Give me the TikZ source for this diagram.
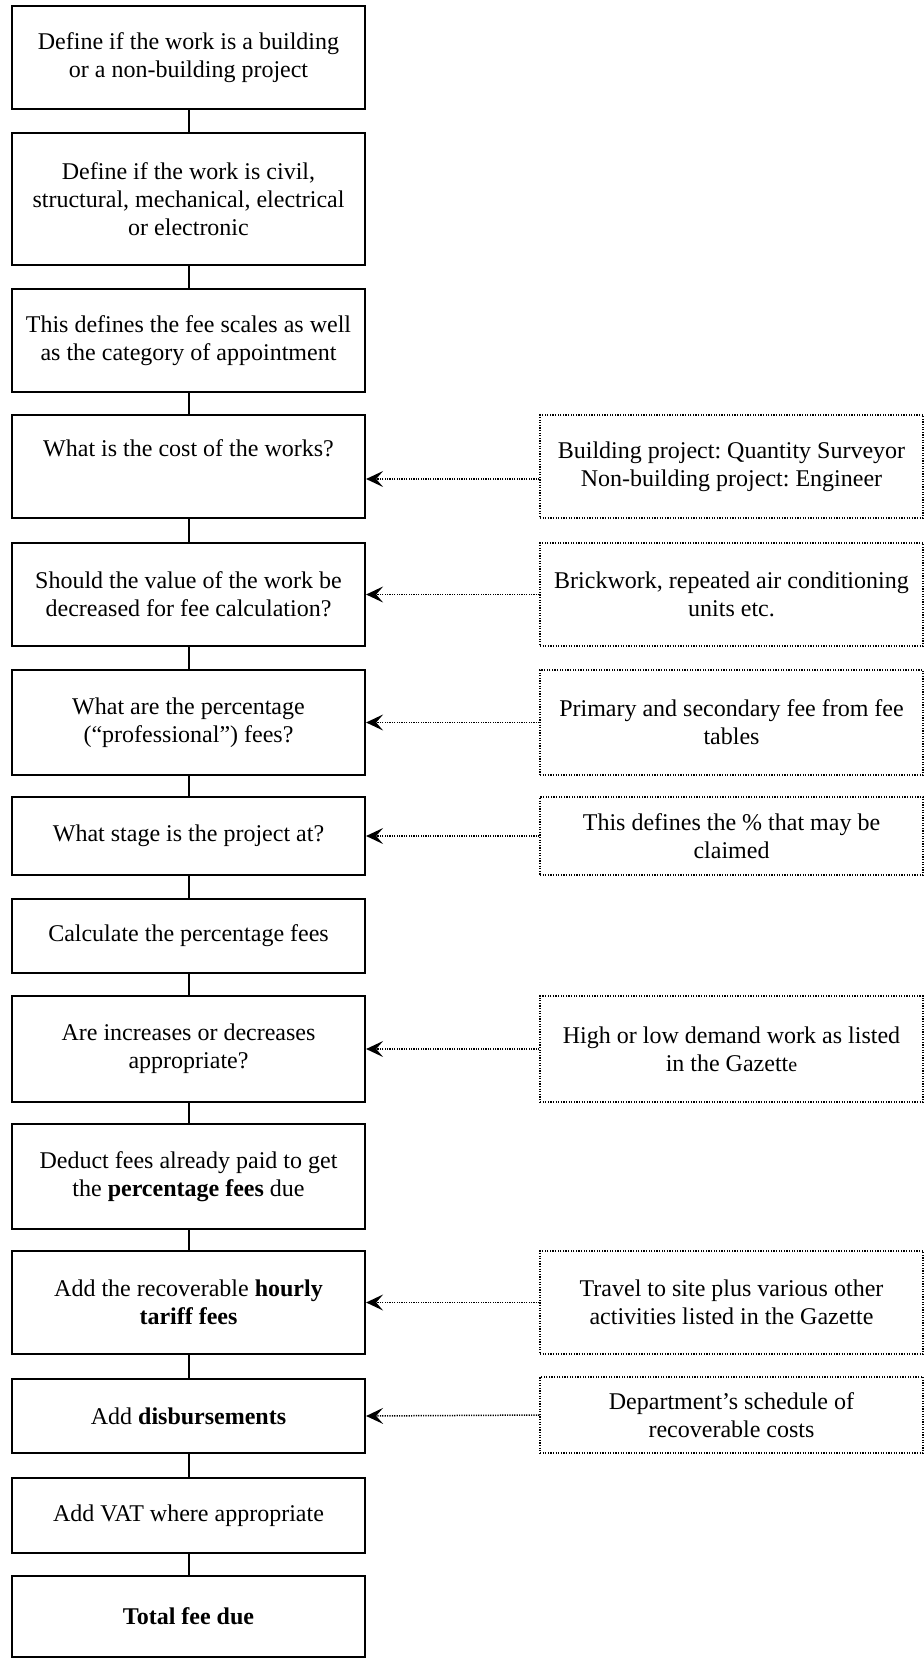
\documentclass[tikz,border=0pt]{standalone}
\usepackage{fontspec}
\setmainfont{Liberation Serif}
\usetikzlibrary{arrows.meta}
\frenchspacing
\begin{document}
\begin{tikzpicture}[x=0.5pt,y=-0.5pt,
  stepbox/.style={draw, line width=1.1pt, align=center, inner sep=0pt,
    minimum width=176.5pt, font=\fontsize{12}{14}\selectfont},
  notebox/.style={draw, line width=0.6pt, dash pattern=on 0.6pt off 0.7pt,
    align=center, inner sep=0pt, minimum width=191.5pt, font=\fontsize{12}{14}\selectfont},
  link/.style={line width=1pt},
  feed/.style={line width=0.75pt, dash pattern=on 0.6pt off 0.6pt,
    -{Stealth[length=8.5pt,width=8pt,inset=3.5pt]}}]
\useasboundingbox (0,0) rectangle (924,1659);

% main column
\node[stepbox, minimum height=51.5pt] (b1) at (188.5,57.5) {Define if the work is a building\\or a non-building project};
\node[stepbox, minimum height=66pt] (b2) at (188.5,199) {Define if the work is civil,\\structural, mechanical, electrical\\or electronic};
\node[stepbox, minimum height=51.5pt] (b3) at (188.5,340.5) {This defines the fee scales as well\\as the category of appointment};
\node[stepbox, minimum height=51.5pt] (b4) at (188.5,466.5) {What is the cost of the works?\\\strut};
\node[stepbox, minimum height=51.5pt] (b5) at (188.5,594.5) {Should the value of the work be\\decreased for fee calculation?};
\node[stepbox, minimum height=52.5pt] (b6) at (188.5,722.5) {What are the percentage\\(“professional”) fees?};
\node[stepbox, minimum height=39pt] (b7) at (188.5,836) {What stage is the project at?};
\node[stepbox, minimum height=37pt] (b8) at (188.5,936) {Calculate the percentage fees};
\node[stepbox, minimum height=53pt] (b9) at (188.5,1049) {Are increases or decreases\\appropriate?};
\node[stepbox, minimum height=52.5pt] (b10) at (188.5,1176.5) {Deduct fees already paid to get\\the \textbf{percentage fees} due};
\node[stepbox, minimum height=51.5pt] (b11) at (188.5,1302.5) {Add the recoverable \textbf{hourly}\\\textbf{tariff fees}};
\node[stepbox, minimum height=37pt] (b12) at (188.5,1416) {Add \textbf{disbursements}};
\node[stepbox, minimum height=37.5pt] (b13) at (188.5,1515.5) {Add VAT where appropriate};
\node[stepbox, minimum height=40.5pt] (b14) at (188.5,1616.5) {\textbf{Total fee due}};

\foreach \a/\b in {b1/b2,b2/b3,b3/b4,b4/b5,b5/b6,b6/b7,b7/b8,b8/b9,b9/b10,b10/b11,b11/b12,b12/b13,b13/b14}
  \draw[link] (\a.south) -- (\b.north);

% notes
\node[notebox, minimum height=51.5pt] (r1) at (731.5,466.5) {Building project: Quantity Surveyor\\Non-building project: Engineer};
\node[notebox, minimum height=51.5pt] (r2) at (731.5,594.5) {Brickwork, repeated air conditioning\\units etc.};
\node[notebox, minimum height=52.5pt] (r3) at (731.5,722.5) {Primary and secondary fee from fee\\tables};
\node[notebox, minimum height=39pt] (r4) at (731.5,836) {This defines the \% that may be\\claimed};
\node[notebox, minimum height=53pt] (r5) at (731.5,1049) {High or low demand work as listed\\in the Gazett{\fontsize{10}{12}\selectfont e}};
\node[notebox, minimum height=51.5pt] (r6) at (731.5,1302.5) {Travel to site plus various other\\activities listed in the Gazette};
\node[notebox, minimum height=38pt] (r7) at (731.5,1415) {Department’s schedule of\\recoverable costs};

\draw[feed] ([yshift=-6.25pt]r1.west) -- ([yshift=-6.25pt]b4.east);
\draw[feed] (r2.west) -- (b5.east);
\draw[feed] (r3.west) -- (b6.east);
\draw[feed] (r4.west) -- (b7.east);
\draw[feed] (r5.west) -- (b9.east);
\draw[feed] (r6.west) -- (b11.east);
\draw[feed] (r7.west) -- (b12.east);
\end{tikzpicture}
\end{document}
